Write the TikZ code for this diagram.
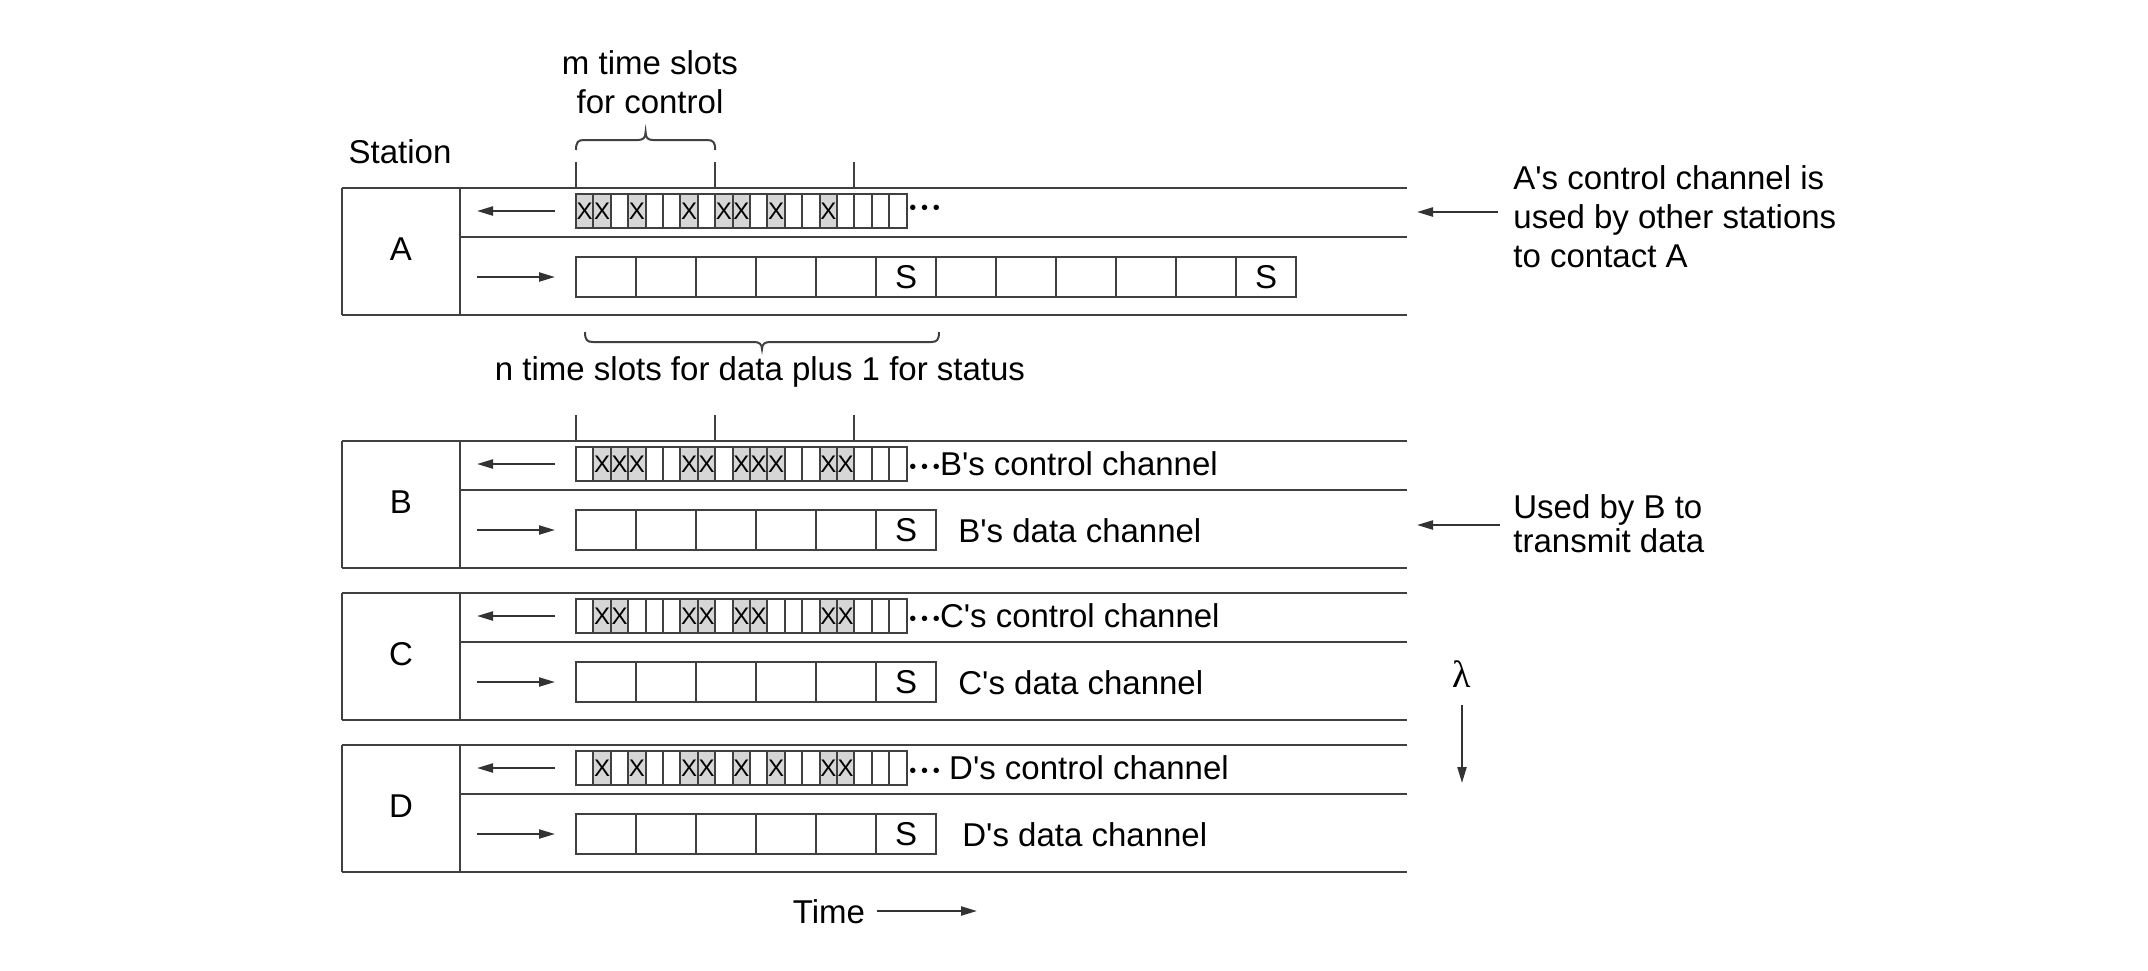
\documentclass[tikz,border=0pt]{standalone}
\usepackage{fontspec}
\setmainfont{Liberation Sans}[Ligatures=TeXOff]
\newfontfamily\lamfont{Liberation Serif}
\usetikzlibrary{arrows.meta}
\tikzset{
  frame/.style={line width=1.3pt, draw=black!75},
  cellline/.style={line width=1pt, draw=black!75},
  xcell/.style={fill=black!16},
  xmark/.style={font=\fontsize{12}{12}\selectfont, inner sep=0pt},
  lbl/.style={font=\fontsize{16.5}{19.5}\selectfont, inner sep=0pt},
  arr/.style={line width=1.1pt, draw=black!80, -{Triangle[length=8pt,width=4.5pt]}},
  tickline/.style={line width=1pt, draw=black!75},
  bracepath/.style={line width=1pt, draw=black!75},
}
\newcommand{\ctrldots}{\raisebox{1.2pt}{\fontsize{10}{10}\selectfont •\kern2.4pt•\kern2.4pt•}}
% #1 top y, #2 letter, #3 X cells, #4 number of data cells, #5 S cells
\newcommand{\stationrow}[5]{%
 \begin{scope}[shift={(0,#1)}]
  \draw[frame] (342,0) -- (1407,0);
  \draw[frame] (342,127) -- (1407,127);
  \draw[frame] (460,49) -- (1407,49);
  \draw[frame] (342,0) -- (342,127);
  \draw[frame] (460,0) -- (460,127);
  \node[lbl] (st#2) at (401,61) {#2};
  \foreach \i in {#3} {
    \fill[xcell] ({576+(\i-1)*17.4},6) rectangle ({576+\i*17.4},40);
    \node[xmark] (x#2\i) at ({576+(\i-0.5)*17.4},23) {X};
  }
  \draw[cellline] (576,6) rectangle ({576+19*17.4},40);
  \foreach \i in {1,...,18} {\draw[cellline] ({576+\i*17.4},6) -- ({576+\i*17.4},40);}
  \pgfmathtruncatemacro{\nm}{#4-1}
  \draw[cellline] (576,69) rectangle ({576+#4*60},109);
  \foreach \i in {1,...,\nm} {\draw[cellline] ({576+\i*60},69) -- ({576+\i*60},109);}
  \foreach \j in {#5} {\node[lbl] (s#2\j) at ({576+(\j-0.5)*60},89) {S};}
  \coordinate (c#2s) at (555,23); \coordinate (c#2e) at (477,23);
  \draw[arr] (c#2s) -- (c#2e);
  \coordinate (d#2s) at (477,89); \coordinate (d#2e) at (555,89);
  \draw[arr] (d#2s) -- (d#2e);
 \end{scope}}
\begin{document}
\begin{tikzpicture}[x=0.5pt,y=-0.5pt]
\useasboundingbox (0,0) rectangle (2148,970);
\fill[white] (0,0) rectangle (2148,970);

% headings
\node[lbl, align=center, anchor=north] (mslots) at (650,50) {m time slots\\for control};
\node[lbl] (station) at (400,152) {Station};
\draw[bracepath] (576,150) .. controls (576,142) and (578,140) .. (584,140) -- (638,140)
  .. controls (643,140) and (645.6,138) .. (645.6,132) .. controls (645.6,138) and (648,140) .. (653,140)
  -- (707,140) .. controls (713,140) and (715.2,142) .. (715.2,150);

% ticks above A and B
\foreach \t/\y in {1/188,2/441} {
  \draw[tickline] (576,\y-26) -- (576,\y);
  \draw[tickline] (715.2,\y-26) -- (715.2,\y);
  \draw[tickline] (854.4,\y-26) -- (854.4,\y);
}

% stations
\stationrow{188}{A}{1,2,4,7,9,10,12,15}{12}{6,12}
\stationrow{441}{B}{2,3,4,7,8,10,11,12,15,16}{6}{6}
\stationrow{593}{C}{2,3,7,8,10,11,15,16}{6}{6}
\stationrow{745}{D}{2,4,7,8,10,12,15,16}{6}{6}

% brace below A
\draw[bracepath] (585,332) .. controls (585,340) and (587,342) .. (593,342) -- (754,342)
  .. controls (759,342) and (762,344) .. (762,349) .. controls (762,344) and (765,342) .. (770,342)
  -- (931,342) .. controls (937,342) and (939,340) .. (939,332);
\node[lbl, anchor=base] (nslots) at (760,380) {n time slots for data plus 1 for status};

% control / data labels
\node[lbl, anchor=west] (ctlA) at (909,211) {\ctrldots};
\node[lbl, anchor=west] (ctlB) at (909,464) {\ctrldots B's control channel};
\node[lbl, anchor=west] (datB) at (958,531) {B's data channel};
\node[lbl, anchor=west] (ctlC) at (909,616) {\ctrldots C's control channel};
\node[lbl, anchor=west] (datC) at (958,683) {C's data channel};
\node[lbl, anchor=west] (ctlD) at (909,768) {\ctrldots\ D's control channel};
\node[lbl, anchor=west] (datD) at (962,835) {D's data channel};

% right annotations
\node[lbl, align=left, anchor=north west] (noteA) at (1513,165) {A's control channel is\\used by other stations\\to contact A};
\coordinate (nAs) at (1498,212); \coordinate (nAe) at (1417,212);
\draw[arr] (nAs) -- (nAe);
\node[lbl, align=left, anchor=north west, font=\fontsize{16.5}{17}\selectfont] (noteB) at (1513,494) {Used by B to\\transmit data};
\coordinate (nBs) at (1500,525); \coordinate (nBe) at (1417,525);
\draw[arr] (nBs) -- (nBe);

% lambda
\node[inner sep=0pt, font=\lamfont\fontsize{19}{19}\selectfont] (lam) at (1462,674) {λ};
\coordinate (lamS) at (1462,705); \coordinate (lamE) at (1462,783);
\draw[arr] (lamS) -- (lamE);

% time
\node[lbl] (time) at (829,912) {Time};
\coordinate (tS) at (877,911); \coordinate (tE) at (977,911);
\draw[arr] (tS) -- (tE);
\end{tikzpicture}
\end{document}
